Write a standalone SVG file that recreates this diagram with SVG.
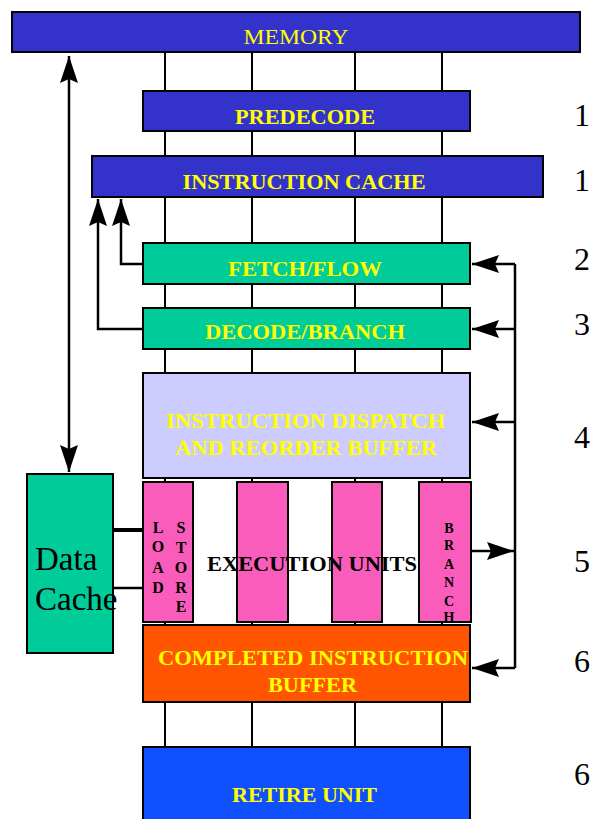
<svg xmlns="http://www.w3.org/2000/svg" width="592" height="819" viewBox="0 0 592 819">
<style>
.box{stroke:#000;stroke-width:2}
.blue{fill:#3333cc}
.green{fill:#00cc99}
.pink{fill:#fa5cbb}
.t{font-family:"Liberation Serif","Times New Roman",serif;font-weight:bold;font-size:22px;fill:#ffff00;text-anchor:middle}
.k{font-family:"Liberation Serif","Times New Roman",serif;font-weight:bold;fill:#000;text-anchor:middle}
.num{font-family:"Liberation Serif","Times New Roman",serif;font-size:32px;fill:#000}
.bus{stroke:#000;stroke-width:2;fill:none}
.con{stroke:#000;stroke-width:2.5;fill:none}
</style>
<defs>
<marker id="ah" viewBox="-28 -10 29 20" refX="0" refY="0" markerWidth="29" markerHeight="20" markerUnits="userSpaceOnUse" orient="auto-start-reverse">
<path d="M0,0 L-27,-9 L-23,0 L-27,9 Z" fill="#000"/>
</marker>
</defs>
<rect width="592" height="819" fill="#fff"/>
<g id="bus">
<path class="bus" d="M165,52 V747 M252,52 V747 M355,52 V747 M442,52 V747"/>
</g>
<g id="connectors">
<path class="con" d="M69,472 V56" marker-start="url(#ah)" marker-end="url(#ah)"/>
<path class="con" d="M143,264 H121 V199" marker-end="url(#ah)"/>
<path class="con" d="M143,329 H98 V199" marker-end="url(#ah)"/>
<path class="con" d="M515,264 V668"/>
<path class="con" d="M515,264 H472" marker-end="url(#ah)"/>
<path class="con" d="M515,329 H472" marker-end="url(#ah)"/>
<path class="con" d="M515,422 H472" marker-end="url(#ah)"/>
<path class="con" d="M515,668 H472" marker-end="url(#ah)"/>
<path class="con" d="M471,551 H514" marker-end="url(#ah)"/>
<path d="M113,530 H143" stroke="#000" stroke-width="4"/>
<path d="M113,588 H143" stroke="#000" stroke-width="2.5"/>
</g>
<g id="memory">
<rect class="box blue" x="12" y="12" width="568" height="40"/>
<text class="t" x="296" y="44" textLength="105" lengthAdjust="spacingAndGlyphs" style="font-weight:normal">MEMORY</text>
</g>
<g id="predecode">
<rect class="box blue" x="143" y="91" width="327" height="40"/>
<text class="t" x="305" y="124" textLength="140" lengthAdjust="spacingAndGlyphs">PREDECODE</text>
</g>
<g id="icache">
<rect class="box blue" x="92" y="156" width="451" height="41"/>
<text class="t" x="304" y="189" textLength="243" lengthAdjust="spacingAndGlyphs">INSTRUCTION CACHE</text>
</g>
<g id="fetch">
<rect class="box green" x="143" y="243" width="327" height="41"/>
<text class="t" x="305" y="276" textLength="154" lengthAdjust="spacingAndGlyphs">FETCH/FLOW</text>
</g>
<g id="decode">
<rect class="box green" x="143" y="308" width="327" height="41"/>
<text class="t" x="305" y="339" textLength="200" lengthAdjust="spacingAndGlyphs">DECODE/BRANCH</text>
</g>
<g id="dispatch">
<rect class="box" fill="#ccccff" x="143" y="373" width="327" height="105"/>
<text class="t" x="305.5" y="428" textLength="279" lengthAdjust="spacingAndGlyphs">INSTRUCTION DISPATCH</text>
<text class="t" x="306" y="455" textLength="262" lengthAdjust="spacingAndGlyphs">AND REORDER BUFFER</text>
</g>
<g id="datacache">
<rect class="box green" x="27" y="474" width="86" height="179"/>
<text x="35" y="570" style="font-family:'Liberation Serif','Times New Roman',serif;font-size:33px;fill:#000">Data</text>
<text x="35" y="610" style="font-family:'Liberation Serif','Times New Roman',serif;font-size:33px;fill:#000">Cache</text>
</g>
<g id="loadstore">
<rect class="box pink" x="143" y="482" width="50" height="140"/>
<g class="k" style="font-size:16px">
<text x="158" y="533">L</text><text x="158" y="552">O</text><text x="158" y="573">A</text><text x="158" y="593">D</text>
<text x="181" y="533">S</text><text x="181" y="553">T</text><text x="181" y="573">O</text><text x="181" y="593">R</text><text x="181" y="612">E</text>
</g>
</g>
<g id="exec2">
<rect class="box pink" x="237" y="482" width="51" height="140"/>
</g>
<g id="exec3">
<rect class="box pink" x="332" y="482" width="50" height="140"/>
</g>
<g id="branch">
<rect class="box pink" x="419" y="482" width="52" height="140"/>
<g class="k" style="font-size:14px">
<text x="449" y="533">B</text><text x="449" y="550">R</text><text x="449" y="569">A</text><text x="449" y="587">N</text><text x="449" y="606">C</text><text x="449" y="622">H</text>
</g>
</g>
<g id="execlabel">
<text class="k" x="312" y="571" style="font-size:22px" textLength="210" lengthAdjust="spacingAndGlyphs">EXECUTION UNITS</text>
</g>
<g id="completed">
<rect class="box" fill="#ff5500" x="143" y="625" width="327" height="77"/>
<text class="t" x="313" y="665" textLength="310" lengthAdjust="spacingAndGlyphs">COMPLETED INSTRUCTION</text>
<text class="t" x="312.5" y="692" textLength="89" lengthAdjust="spacingAndGlyphs">BUFFER</text>
</g>
<g id="retire">
<rect class="box" fill="#1150ff" x="143" y="747" width="327" height="90"/>
<text class="t" x="304.5" y="802" textLength="145" lengthAdjust="spacingAndGlyphs">RETIRE UNIT</text>
</g>
<g id="stages">
<text class="num" x="574" y="126">1</text>
<text class="num" x="574" y="191">1</text>
<text class="num" x="574" y="270">2</text>
<text class="num" x="574" y="335">3</text>
<text class="num" x="574" y="448">4</text>
<text class="num" x="574" y="572">5</text>
<text class="num" x="574" y="672">6</text>
<text class="num" x="574" y="785">6</text>
</g>
</svg>
